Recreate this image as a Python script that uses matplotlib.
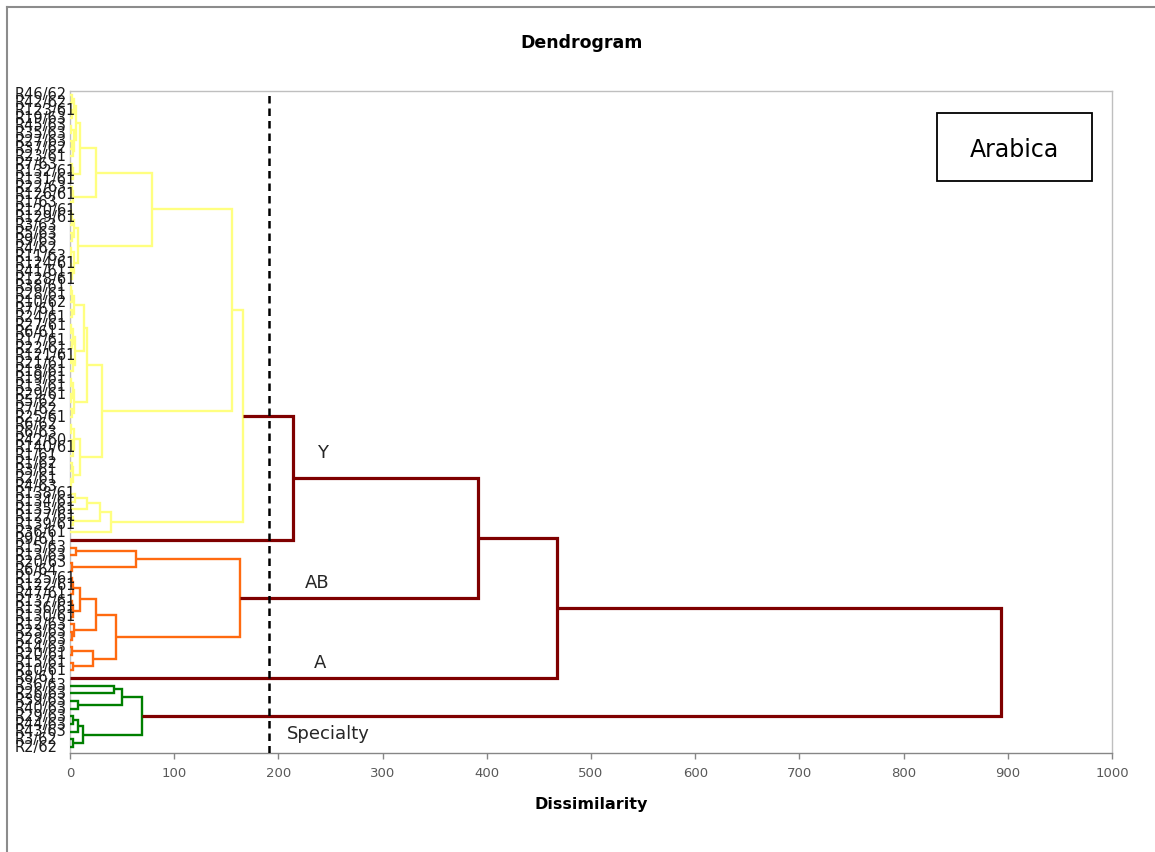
import matplotlib
matplotlib.use('Agg')
import matplotlib.pyplot as plt
from matplotlib.lines import Line2D
from matplotlib.patches import Rectangle

# Leaf labels in dendrogram order, top to bottom
leaf_labels = [
    'R46/62', 'R42/62', 'R123/61', 'R19/63', 'R45/63', 'R35/63', 'R27/63', 'R37/62',
    'R23/61', 'R7/63', 'R132/61', 'R131/61', 'R22/63', 'R126/61', 'R1/63', 'R120/61',
    'R129/61', 'R3/63', 'R5/63', 'R9/63', 'R4/62', 'R11/63', 'R124/61', 'R41/61',
    'R128/61', 'R38/61', 'R28/61', 'R10/62', 'R7/61', 'R24/61', 'R27/61', 'R6/61',
    'R17/61', 'R22/61', 'R121/61', 'R21/61', 'R18/61', 'R19/61', 'R13/61', 'R29/61',
    'R5/62', 'R7/62', 'R25/61', 'R6/62', 'R6/63', 'R42/60', 'R140/61', 'R1/61',
    'R1/62', 'R3/61', 'R2/61', 'R4/63', 'R138/61', 'R134/61', 'R135/61', 'R127/61',
    'R139/61', 'R36/61',
    'R9/61',
    'R15/63', 'R13/63', 'R20/63', 'R6/64', 'R125/61', 'R122/61', 'R47/61', 'R137/61',
    'R136/61', 'R130/61', 'R12/63', 'R23/63', 'R28/63', 'R14/63', 'R20/61', 'R15/61',
    'R10/61',
    'R8/61',
    'R36/63', 'R26/63', 'R39/63', 'R40/63', 'R29/63', 'R44/63', 'R43/63', 'R3/62', 'R2/62',
]

# Agglomeration steps: (first leaf, first leaf of lower child, end leaf, dissimilarity)
merges = [
    # Y
    (0, 1, 2, 1.5), (2, 3, 4, 2.0), (0, 2, 4, 3.5), (4, 5, 6, 1.0), (6, 7, 8, 1.5),
    (6, 8, 9, 2.5), (4, 6, 9, 4.0), (0, 4, 9, 5.5), (9, 10, 11, 2.0), (9, 11, 12, 3.0),
    (0, 9, 12, 10), (12, 13, 14, 1.5), (12, 14, 15, 3.0), (0, 12, 15, 25),
    (15, 16, 17, 1.0), (15, 17, 18, 2.0), (18, 19, 20, 1.5), (15, 18, 20, 4.0),
    (20, 21, 22, 1.0), (22, 23, 24, 1.0), (22, 24, 25, 2.0), (20, 22, 25, 3.5),
    (15, 20, 25, 8), (0, 15, 25, 79),
    (25, 26, 27, 1.0), (25, 27, 28, 2.0), (28, 29, 30, 1.5), (25, 28, 30, 4.0),
    (30, 31, 32, 1.0), (32, 33, 34, 1.5), (30, 32, 34, 3.0), (34, 35, 36, 1.0),
    (34, 36, 37, 2.5), (30, 34, 37, 5.0), (25, 30, 37, 13),
    (37, 38, 39, 1.0), (39, 40, 41, 1.0), (37, 39, 41, 2.5), (41, 42, 43, 1.5),
    (37, 41, 43, 4.0), (25, 37, 43, 16),
    (43, 44, 45, 1.0), (45, 46, 47, 1.5), (45, 47, 48, 2.5), (43, 45, 48, 4.0),
    (48, 49, 50, 1.5), (50, 51, 52, 1.0), (48, 50, 52, 3.0), (43, 48, 52, 10),
    (25, 43, 52, 31), (0, 25, 52, 155),
    (52, 53, 54, 5), (52, 54, 55, 16), (55, 56, 57, 3), (52, 55, 57, 29), (52, 57, 58, 39),
    (0, 52, 58, 166),
    (0, 58, 59, 214),
    # AB
    (59, 60, 61, 6), (61, 62, 63, 2), (59, 61, 63, 63),
    (63, 64, 65, 1.5), (63, 65, 66, 3), (66, 67, 68, 1.5), (66, 68, 69, 3), (63, 66, 69, 10),
    (70, 71, 72, 1.5), (69, 70, 72, 4), (63, 69, 72, 25),
    (72, 73, 74, 2), (74, 75, 76, 3), (72, 74, 76, 22), (63, 72, 76, 44),
    (59, 63, 76, 163),
    (0, 59, 76, 392),
    (0, 76, 77, 467),
    # Specialty
    (77, 78, 79, 42), (79, 80, 81, 8), (77, 79, 81, 50), (81, 82, 83, 3), (81, 83, 84, 8),
    (84, 85, 86, 3), (81, 84, 86, 12), (77, 81, 86, 69),
    (0, 77, 86, 893),
]

cut_level = 191
# leaf ranges of the groups under the cut and their colours
group_ranges = [(0, 58, '#FFFF80'), (59, 76, '#FF6A10'), (77, 86, '#007F00')]
above_color = '#7F0000'

group_names = ['Y', 'AB', 'A', 'Specialty']
name_pos = [(242, 46.7), (237, 63.6), (240, 74.1), (248, 83.3)]

fig = plt.figure(figsize=(11.55, 8.52), dpi=100)
ax = fig.add_axes([70 / 1155, 1 - 753 / 852, 1042 / 1155, 662 / 852])


def range_color(s, e):
    for gs, ge, c in group_ranges:
        if s >= gs and e <= ge:
            return c
    return above_color


pos = {(i, i + 1): (0.0, float(i)) for i in range(len(leaf_labels))}
for s, m, e, h in sorted(merges, key=lambda t: t[3]):
    xl, yl = pos[(s, m)]
    xr, yr = pos[(m, e)]
    if h > cut_level:
        col, lw = above_color, 2.3
    else:
        col, lw = range_color(s, e), 1.7
    ax.plot([xl, h, h, xr], [yl, yl, yr, yr], color=col, lw=lw,
            solid_joinstyle='miter', solid_capstyle='butt', zorder=3)
    pos[(s, e)] = (h, (yl + yr) / 2)

ax.axvline(cut_level, color='black', lw=1.8, ls=(0, (3, 2)), zorder=4)

for name, (x, y) in zip(group_names, name_pos):
    ax.text(x, y, name, fontsize=13, color='#262626', ha='center', va='center')

ax.set_xlim(0, 1000)
ax.set_ylim(len(leaf_labels) - 1 + 0.78, -0.52)
ax.set_xticks(range(0, 1001, 100))
ax.tick_params(axis='x', labelsize=9.5, labelcolor='#595959', color='#868686',
               length=4, width=1, pad=6)
ax.set_yticks([])

# leaf names, left aligned in the margin
label_tr = ax.get_yaxis_transform()
for i, lab in enumerate(leaf_labels):
    ax.text(-55 / 1042, i, lab, transform=label_tr, fontsize=10.5, color='#1a1a1a',
            ha='left', va='center', clip_on=False)

for side in ['top', 'right', 'left']:
    ax.spines[side].set_color('#BFBFBF')
    ax.spines[side].set_linewidth(1)
ax.spines['bottom'].set_color('#868686')
ax.spines['bottom'].set_linewidth(1)

ax.set_xlabel('Dissimilarity', fontsize=11.5, fontweight='bold', labelpad=12)
fig.text(582 / 1155, 1 - 43 / 852, 'Dendrogram', fontsize=12.5, fontweight='bold',
         ha='center', va='center')

# legend box
ax.add_patch(Rectangle((937 / 1155, 1 - 181 / 852), 155 / 1155, 68 / 852,
                       transform=fig.transFigure, fill=False, ec='black', lw=1.3))
fig.text(1014 / 1155, 1 - 150 / 852, 'Arabica', fontsize=17, ha='center', va='center')

# chart frame
fig.add_artist(Line2D([7 / 1155, 7 / 1155], [0, 1 - 7 / 852], color='#8C8C8C', lw=1.5))
fig.add_artist(Line2D([7 / 1155, 1], [1 - 7 / 852, 1 - 7 / 852], color='#8C8C8C', lw=1.5))

fig.savefig('out.png', dpi=100)
